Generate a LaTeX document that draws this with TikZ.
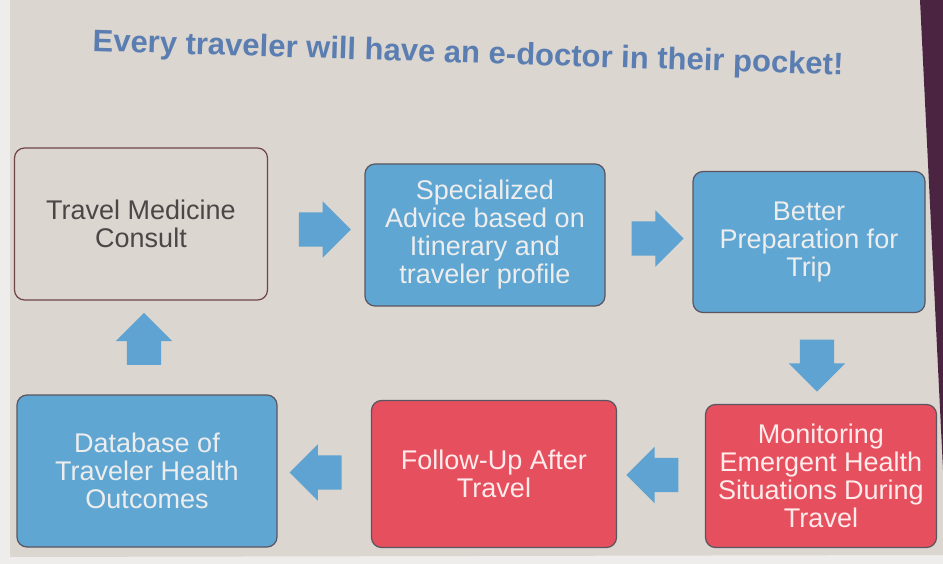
\documentclass[tikz,border=0pt]{standalone}
\usepackage{fontspec}
\setmainfont{Liberation Sans}
\usetikzlibrary{shapes.arrows,calc}
\definecolor{slidebg}{HTML}{DBD6CF}
\definecolor{outerbg}{HTML}{EEEDEB}
\definecolor{screenedge}{HTML}{4A2440}
\definecolor{titleblue}{HTML}{5A7DB2}
\definecolor{stageblue}{HTML}{5FA6D3}
\definecolor{stagered}{HTML}{E6505E}
\definecolor{flowblue}{HTML}{5EA3D2}
\definecolor{boxline}{HTML}{5A5560}
\definecolor{consultline}{HTML}{6E4448}
\definecolor{consulttext}{HTML}{4C4646}
\begin{document}
\begin{tikzpicture}[
    x=1pt, y=-1pt,
    stage/.style={draw=boxline, line width=1.2pt, rounded corners=10pt, align=center,
      font=\fontsize{27}{28}\selectfont, inner sep=0pt},
    bluebox/.style={stage, fill=stageblue, text=white!93!black},
    redbox/.style={stage, fill=stagered, text=white!92!red},
    plainbox/.style={stage, draw=consultline, fill=slidebg, text=consulttext},
    flow/.style={single arrow, fill=flowblue, draw=none,
      minimum height=52pt, single arrow head extend=11pt},
    flowside/.style={flow, inner xsep=0pt, inner ysep=17pt},
    flowupright/.style={flow, inner xsep=17pt, inner ysep=0pt},
  ]
    \useasboundingbox (0,0) rectangle (943,564);
    \fill[outerbg] (0,0) rectangle (943,564);
    \fill[slidebg] (10,0) -- (920,0) -- (943,470) -- (943,555) -- (10,557) -- cycle;
    \fill[screenedge] (920,0) -- (943,0) -- (943,470) -- cycle;

    \node[text=titleblue, font=\bfseries\fontsize{31}{34}\selectfont, rotate=-1.8] (title) at (468,55)
      {Every traveler will have an e-doctor in their pocket!};

    \node[plainbox, minimum width=253pt, minimum height=152pt] (consult) at (141,224)
      {Travel Medicine\\Consult};
    \node[bluebox, minimum width=240pt, minimum height=142pt] (advice) at (485,235)
      {Specialized\\Advice based on\\Itinerary and\\traveler profile};
    \node[bluebox, minimum width=232pt, minimum height=141pt] (prepare) at (809,242)
      {Better\\Preparation for\\Trip};
    \node[redbox, minimum width=231pt, minimum height=143pt] (monitor) at (821,476)
      {Monitoring\\Emergent Health\\Situations During\\Travel};
    \node[redbox, minimum width=245pt, minimum height=147pt] (followup) at (494,474)
      {Follow-Up After\\Travel};
    \node[bluebox, minimum width=260pt, minimum height=152pt] (database) at (147,471)
      {Database of\\Traveler Health\\Outcomes};

    \node[flowside] (consult-advice) at ($(consult.east)!0.5!(advice.west)$) {};
    \node[flowside] (advice-prepare) at ($(advice.east)!0.5!(prepare.west)$) {};
    \node[flowupright, shape border rotate=270] (prepare-monitor) at (817,357) {};
    \node[flowside, shape border rotate=180] (monitor-followup) at ($(monitor.west)!0.5!(followup.east)$) {};
    \node[flowside, shape border rotate=180] (followup-database) at ($(followup.west)!0.5!(database.east)$) {};
    \node[flowupright, shape border rotate=90] (database-consult) at ($(database.north)!0.5!(consult.south)$) {};
\end{tikzpicture}
\end{document}
